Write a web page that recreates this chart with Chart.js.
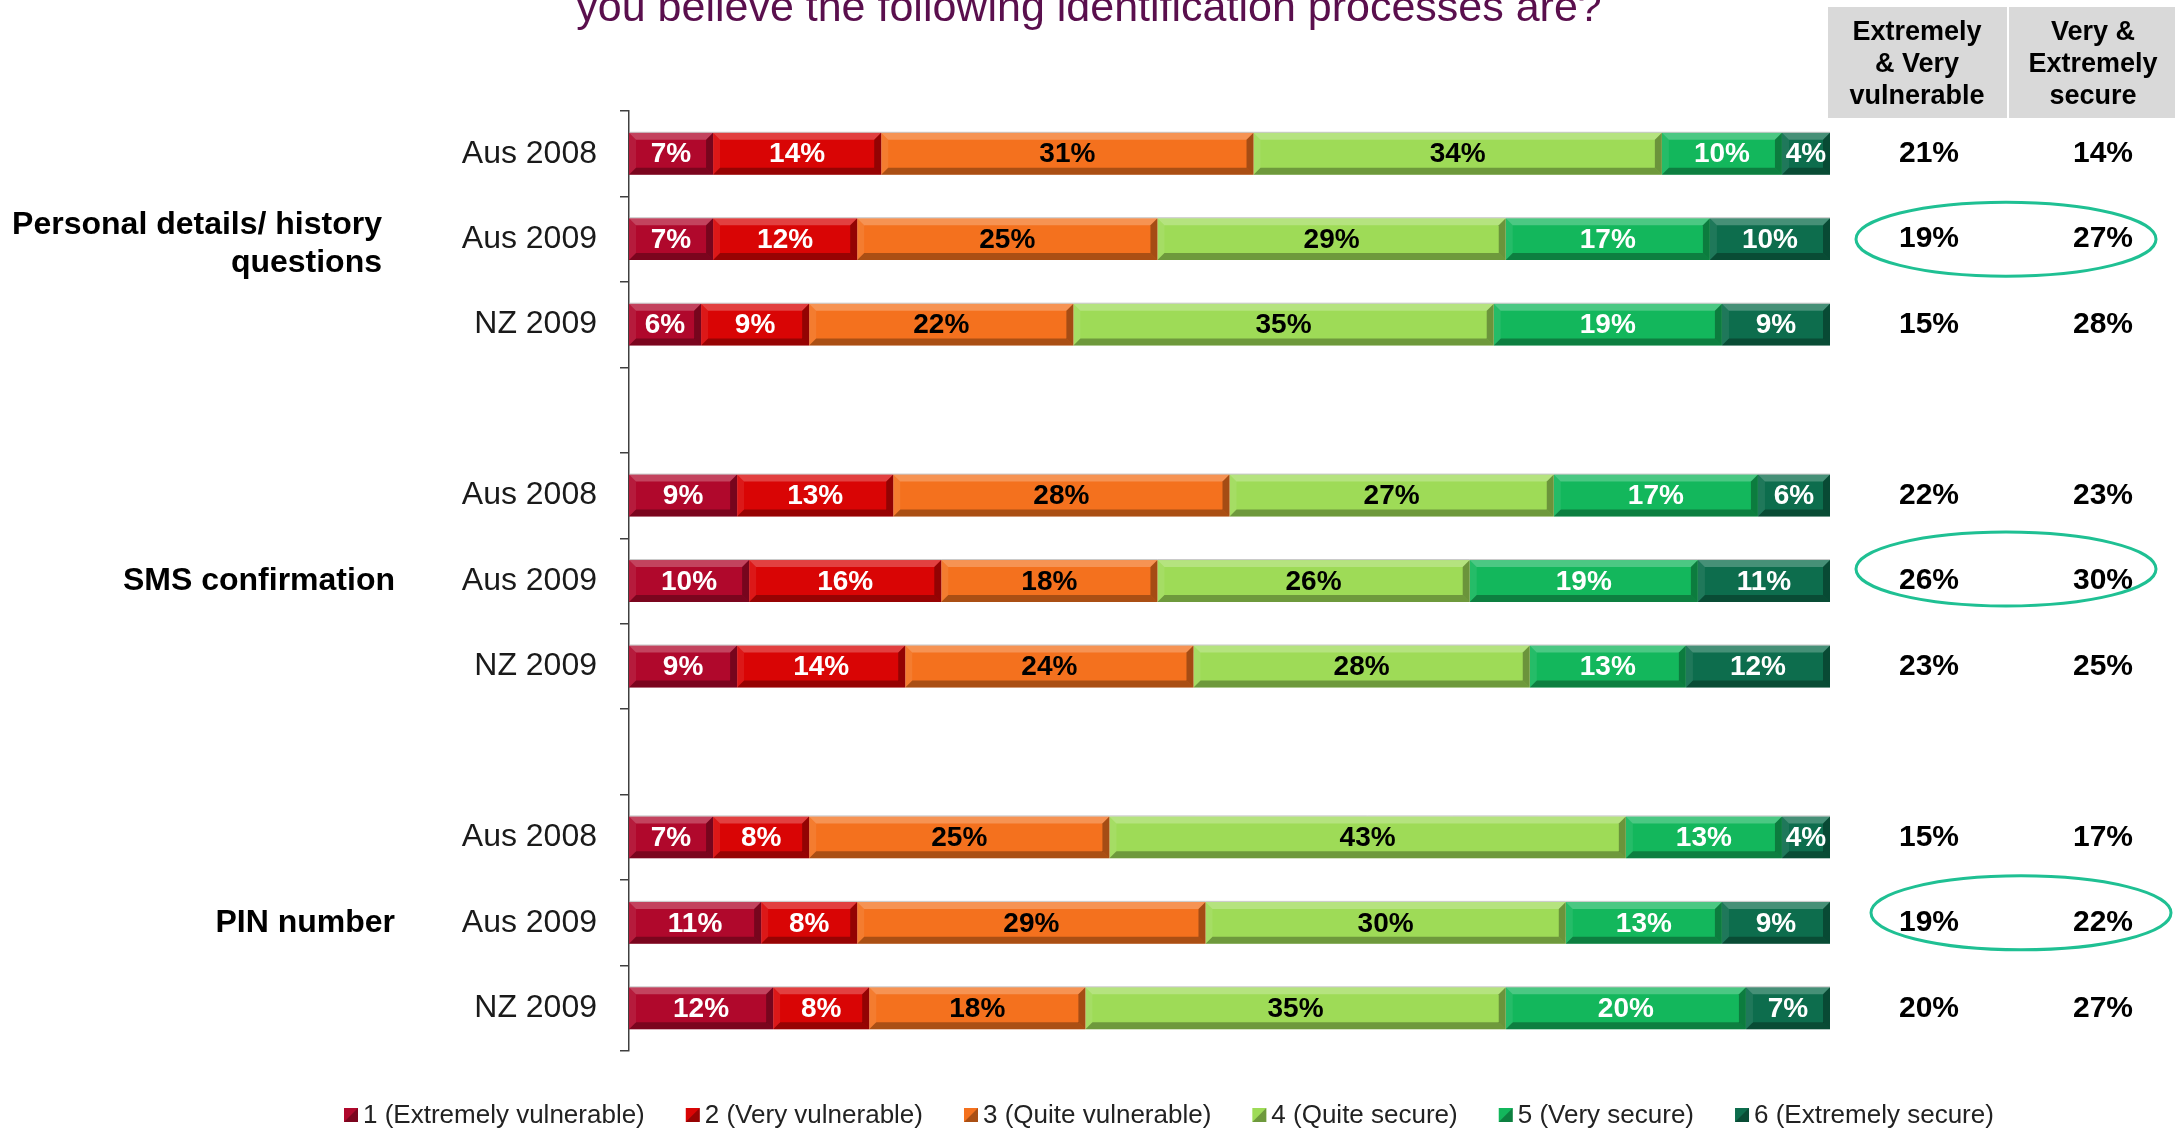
<!DOCTYPE html>
<html>
<head>
<meta charset="utf-8">
<script src="https://cdn.jsdelivr.net/npm/chart.js@4.4.1/dist/chart.umd.min.js"></script>
<style>
    html, body { margin: 0; padding: 0; background: #fff; }
    canvas { display: block; }
</style>
</head>
<body>
<canvas id="security-chart" width="2175" height="1129"></canvas>
<script>
const FONT = '"Liberation Sans", Arial, sans-serif';

const groups = [["Personal details/ history", "questions"], ["SMS confirmation"], ["PIN number"]];
const years = ["Aus 2008", "Aus 2009", "NZ 2009"];
const seriesNames = ["1 (Extremely vulnerable)", "2 (Very vulnerable)", "3 (Quite vulnerable)",
    "4 (Quite secure)", "5 (Very secure)", "6 (Extremely secure)"];

// one value per row: 3 rows per group, in the order of groups x years
const extremelyVulnerable = [7, 7, 6, 9, 10, 9, 7, 11, 12];
const veryVulnerable = [14, 12, 9, 13, 16, 14, 8, 8, 8];
const quiteVulnerable = [31, 25, 22, 28, 18, 24, 25, 29, 18];
const quiteSecure = [34, 29, 35, 27, 26, 28, 43, 30, 35];
const verySecure = [10, 17, 19, 17, 19, 13, 13, 13, 20];
const extremelySecure = [4, 10, 9, 6, 11, 12, 4, 9, 7];

const vulnerableTotals = [21, 19, 15, 22, 26, 23, 15, 19, 20];
const secureTotals = [14, 27, 28, 23, 30, 25, 17, 22, 27];
const headerVulnerable = ["Extremely", "& Very", "vulnerable"];
const headerSecure = ["Very &", "Extremely", "secure"];
const circledRows = [1, 4, 7];

const colors = ["#b0082c", "#d90505", "#f4711e", "#9edb57", "#13b75c", "#0d6d4d"];
const labelColors = ["#fff", "#fff", "#000", "#000", "#fff", "#fff"];

// categories with an empty slot between groups
const labels = [];
const slot = [];
groups.forEach((g, gi) => {
    if (gi > 0) { labels.push(""); slot.push(-1); }
    years.forEach((y, yi) => { labels.push(y); slot.push(gi * years.length + yi); });
});
const spread = arr => slot.map(i => (i < 0 ? null : arr[i]));
const series = [extremelyVulnerable, veryVulnerable, quiteVulnerable, quiteSecure, verySecure, extremelySecure];

function poly(ctx, pts, fill) {
    ctx.beginPath();
    ctx.moveTo(pts[0][0], pts[0][1]);
    pts.slice(1).forEach(p => ctx.lineTo(p[0], p[1]));
    ctx.closePath();
    ctx.fillStyle = fill;
    ctx.fill();
}

function bevel(ctx, x0, y0, x1, y1, b) {
    poly(ctx, [[x0, y0], [x1, y0], [x1 - b, y0 + b], [x0 + b, y0 + b]], "rgba(255,255,255,0.24)");
    poly(ctx, [[x0, y1], [x1, y1], [x1 - b, y1 - b], [x0 + b, y1 - b]], "rgba(0,0,0,0.30)");
    poly(ctx, [[x0, y0], [x0 + b, y0 + b], [x0 + b, y1 - b], [x0, y1]], "rgba(255,255,255,0.08)");
    poly(ctx, [[x1, y0], [x1 - b, y0 + b], [x1 - b, y1 - b], [x1, y1]], "rgba(0,0,0,0.32)");
    ctx.strokeStyle = "rgba(160,160,160,0.6)";
    ctx.lineWidth = 1;
    ctx.beginPath();
    ctx.moveTo(x0, y0 - 0.5);
    ctx.lineTo(x1, y0 - 0.5);
    ctx.stroke();
}

// 3d bevel on each bar + the value inside
const bevelPlugin = {
    id: "bevel",
    afterDatasetsDraw(chart) {
        const ctx = chart.ctx;
        ctx.save();
        chart.data.datasets.forEach((ds, di) => {
            const meta = chart.getDatasetMeta(di);
            meta.data.forEach((bar, i) => {
                if (ds.data[i] == null) return;
                const p = bar.getProps(["x", "y", "base", "height"], true);
                const x0 = Math.min(p.base, p.x), x1 = Math.max(p.base, p.x);
                const y0 = p.y - p.height / 2, y1 = p.y + p.height / 2;
                bevel(ctx, x0, y0, x1, y1, 7);
                ctx.fillStyle = labelColors[di];
                ctx.font = "bold 28px " + FONT;
                ctx.textAlign = "center";
                ctx.textBaseline = "middle";
                ctx.fillText(ds.data[i] + "%", (x0 + x1) / 2, p.y + 1);
            });
        });
        ctx.restore();
    }
};

// title, side table, group names and legend
const extrasPlugin = {
    id: "extras",
    afterDraw(chart) {
        const ctx = chart.ctx;
        const yScale = chart.scales.y;
        const rowY = r => yScale.getPixelForValue(slot.indexOf(r));
        ctx.save();

        ctx.fillStyle = "#5a0f4d";
        ctx.font = "43px " + FONT;
        ctx.textAlign = "center";
        ctx.textBaseline = "alphabetic";
        ctx.fillText("you believe the following identification processes are?", 1089, 21);

        // header boxes
        ctx.fillStyle = "#d9d9d9";
        ctx.fillRect(1828, 7, 179, 111);
        ctx.fillRect(2009, 7, 166, 111);
        ctx.fillStyle = "#000";
        ctx.font = "bold 27px " + FONT;
        ctx.textBaseline = "middle";
        headerVulnerable.forEach((t, i) => ctx.fillText(t, 1917, 33 + i * 32));
        headerSecure.forEach((t, i) => ctx.fillText(t, 2093, 33 + i * 32));

        ctx.font = "bold 30px " + FONT;
        vulnerableTotals.forEach((v, r) => {
            ctx.fillText(v + "%", 1929, rowY(r));
            ctx.fillText(secureTotals[r] + "%", 2103, rowY(r));
        });

        // highlight ellipses
        const ellX = [2006, 2006, 2021];
        const ellDy = [0, -12, -10];
        ctx.strokeStyle = "#1fc093";
        ctx.lineWidth = 3;
        circledRows.forEach((r, i) => {
            ctx.beginPath();
            ctx.ellipse(ellX[i], rowY(r) + ellDy[i], 150, 37, 0, 0, Math.PI * 2);
            ctx.stroke();
        });

        // group names
        ctx.fillStyle = "#000";
        ctx.font = "bold 32px " + FONT;
        ctx.textAlign = "right";
        groups.forEach((g, gi) => {
            const y = rowY(gi * years.length + 1);
            if (g.length === 2) {
                ctx.fillText(g[0], 382, y - 14);
                ctx.fillText(g[1], 382, y + 24);
            } else {
                ctx.fillText(g[0], 395, y);
            }
        });

        // legend
        ctx.font = "26px " + FONT;
        ctx.textAlign = "left";
        let x = 344;
        const ly = 1115;
        seriesNames.forEach((name, i) => {
            ctx.fillStyle = colors[i];
            ctx.fillRect(x, ly - 7, 14, 14);
            poly(ctx, [[x + 14, ly - 7], [x + 14, ly + 7], [x, ly + 7]], "rgba(0,0,0,0.3)");
            ctx.fillStyle = "#222";
            ctx.fillText(name, x + 19, ly + 1);
            x += 19 + ctx.measureText(name).width + 41;
        });
        ctx.restore();
    }
};

new Chart(document.querySelector("#security-chart"), {
    type: "bar",
    data: {
        labels: labels,
        datasets: series.map((s, i) => ({
            label: seriesNames[i],
            data: spread(s),
            backgroundColor: colors[i],
            borderWidth: 0,
            categoryPercentage: 0.49,
            barPercentage: 1
        }))
    },
    options: {
        indexAxis: "y",
        responsive: false,
        animation: false,
        layout: { padding: { left: 0, right: 345, top: 111, bottom: 78 } },
        scales: {
            x: { stacked: true, min: 0, max: 100, display: false },
            y: {
                stacked: true,
                grid: { offset: true, drawOnChartArea: false, drawTicks: true, tickLength: 9, color: "#404040", lineWidth: 1.5 },
                border: { display: true, color: "#404040", width: 1.5 },
                ticks: { padding: 23, color: "#1a1a1a", font: { family: FONT, size: 32 } },
                afterFit: s => { s.width = 629; }
            }
        },
        plugins: { legend: { display: false }, tooltip: { enabled: false } }
    },
    plugins: [bevelPlugin, extrasPlugin]
});
</script>
</body>
</html>
